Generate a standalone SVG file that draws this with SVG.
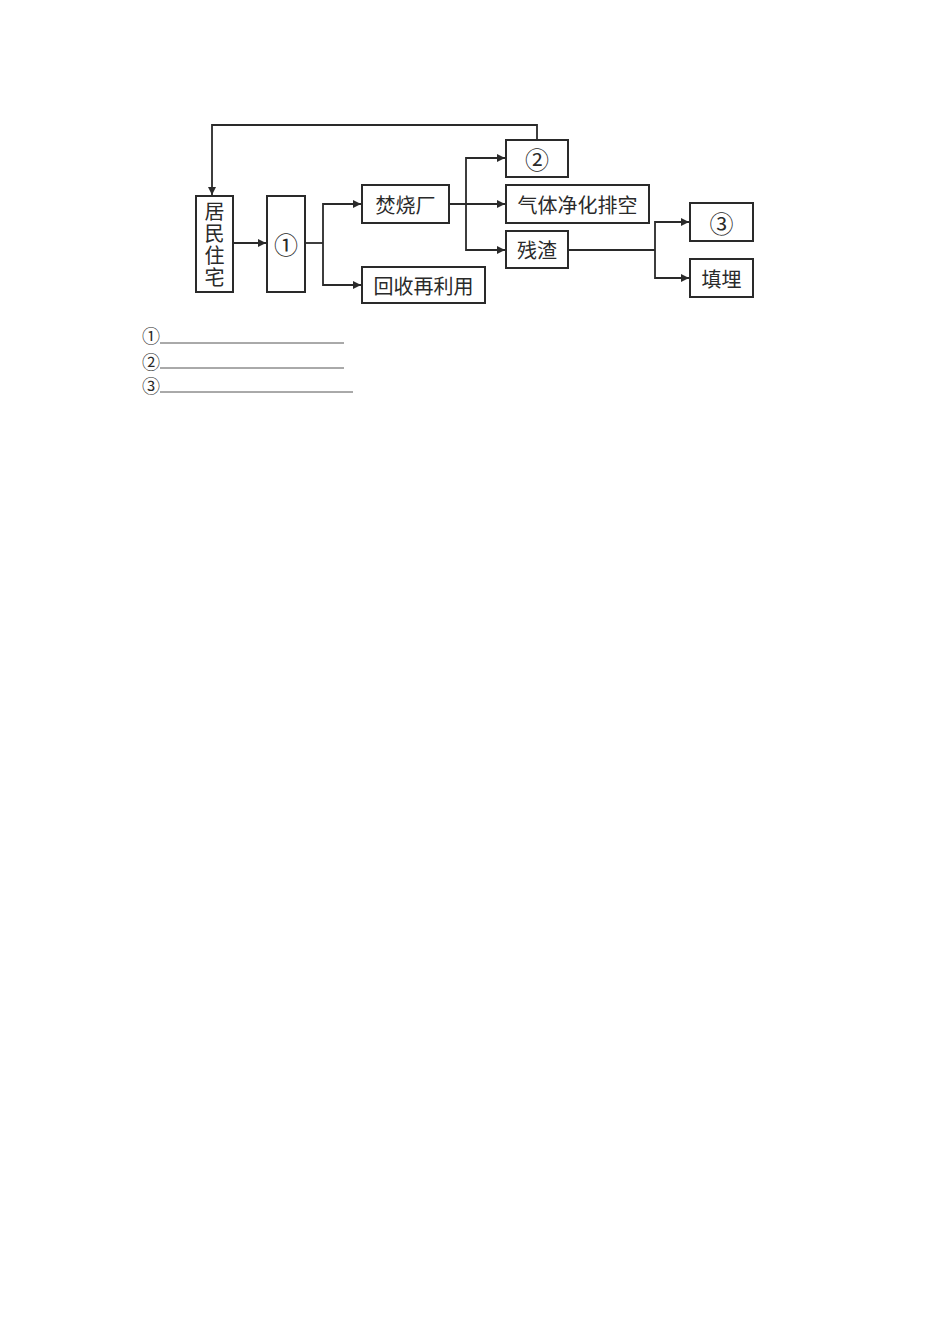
<svg xmlns="http://www.w3.org/2000/svg" width="950" height="1344" viewBox="0 0 950 1344">
<defs>
<marker id="ah" viewBox="0 0 10 10" refX="10" refY="5" markerWidth="12" markerHeight="8" markerUnits="userSpaceOnUse" orient="auto"><path d="M0,0 L10,5 L0,10 Z" fill="#2a2a2a"/></marker>
</defs>
<style>
.box{fill:#fff;stroke:#2a2a2a;stroke-width:2}
.ln{fill:none;stroke:#2a2a2a;stroke-width:1.8}
.t{font-family:"Noto Sans CJK SC","Noto Sans",sans-serif;font-size:20px;fill:#2a2a2a;text-anchor:middle;dominant-baseline:central}
.c{font-size:24px}
.v{font-family:"Noto Sans CJK SC","Noto Sans",sans-serif;font-size:20px;fill:#2a2a2a;text-anchor:middle;writing-mode:vertical-rl;letter-spacing:2px}
.q{font-family:"Noto Sans CJK SC","Noto Sans",sans-serif;font-size:18px;fill:#2a2a2a;dominant-baseline:central}
.ul{stroke:#555;stroke-width:1}
</style>
<rect width="950" height="1344" fill="#fff"/>
<g id="connectors">
<path class="ln" d="M537,140 V125 H212 V195" marker-end="url(#ah)"/>
<path class="ln" d="M233,243 H266" marker-end="url(#ah)"/>
<path class="ln" d="M305,243 H323"/>
<path class="ln" d="M323,243 V204 H361" marker-end="url(#ah)"/>
<path class="ln" d="M323,243 V285 H361" marker-end="url(#ah)"/>
<path class="ln" d="M449,204 H505" marker-end="url(#ah)"/>
<path class="ln" d="M466,204 V158 H505" marker-end="url(#ah)"/>
<path class="ln" d="M466,204 V250 H505" marker-end="url(#ah)"/>
<path class="ln" d="M568,250 H655"/>
<path class="ln" d="M655,250 V222 H689" marker-end="url(#ah)"/>
<path class="ln" d="M655,250 V278 H689" marker-end="url(#ah)"/>
</g>
<g id="node-home"><rect class="box" x="196" y="196" width="37" height="96"/>
<text class="v" x="214.5" y="245">居民住宅</text></g>
<g id="node-1"><rect class="box" x="267" y="196" width="38" height="96"/><text class="t c" x="286" y="243">①</text></g>
<g id="node-burn"><rect class="box" x="362" y="185" width="87" height="38"/><text class="t" x="405.5" y="204">焚烧厂</text></g>
<g id="node-recycle"><rect class="box" x="362" y="267" width="123" height="36"/><text class="t" x="423.5" y="285">回收再利用</text></g>
<g id="node-2"><rect class="box" x="506" y="140" width="62" height="37"/><text class="t c" x="537" y="158.5">②</text></g>
<g id="node-gas"><rect class="box" x="506" y="185" width="143" height="38"/><text class="t" x="577.5" y="204">气体净化排空</text></g>
<g id="node-slag"><rect class="box" x="506" y="231" width="62" height="37"/><text class="t" x="537" y="249.5">残渣</text></g>
<g id="node-3"><rect class="box" x="690" y="203" width="63" height="38"/><text class="t c" x="721.5" y="222">③</text></g>
<g id="node-landfill"><rect class="box" x="690" y="259" width="63" height="38"/><text class="t" x="721.5" y="278">填埋</text></g>
<g id="answers">
<text class="q" x="142" y="335">①</text><line class="ul" x1="160" y1="343" x2="344" y2="343"/>
<text class="q" x="142" y="361">②</text><line class="ul" x1="160" y1="368" x2="344" y2="368"/>
<text class="q" x="142" y="385">③</text><line class="ul" x1="160" y1="392" x2="353" y2="392"/>
</g>
</svg>
